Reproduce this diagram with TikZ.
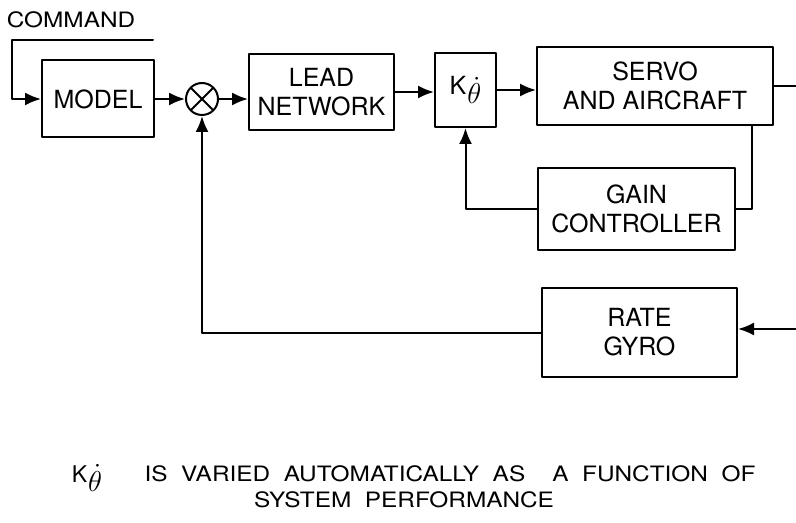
\documentclass[tikz,border=0pt]{standalone}
\usepackage{fontspec}
\setmainfont{TeX Gyre Heros}
\newfontfamily\rong[FakeStretch=1.15,WordSpace=2]{TeX Gyre Heros}
\newcommand{\kdot}{K\kern0.5pt\raisebox{-4.5pt}{\fontsize{15}{15}\selectfont$\dot{\theta}$}}
\usetikzlibrary{arrows.meta}
\usetikzlibrary{calc}

\begin{document}
\begin{tikzpicture}[x=0.5pt,y=-0.5pt,line join=round,line cap=round,>={Latex[length=8pt,width=6.5pt]},
    khoi/.style={draw,line width=1pt,align=center,inner sep=0pt,font=\fontsize{12.5}{14.5}\selectfont},
    day/.style={line width=1pt},
    chu/.style={inner sep=0pt,font=\rong\fontsize{10.6}{12}\selectfont}]%So do khoi
    \useasboundingbox (0,0) rectangle (796,523);
    % cac khoi tren hang chinh
    \node[khoi,minimum width=56pt,minimum height=38.5pt] (model) at (98,99) {MODEL};
    \node[draw,circle,line width=1pt,minimum size=16pt,inner sep=0pt,
        path picture={\draw[line width=1pt] (path picture bounding box.north west)--(path picture bounding box.south east)
            (path picture bounding box.north east)--(path picture bounding box.south west);}] (sum) at (202,99) {};
    \node[khoi,minimum width=72.5pt,minimum height=38pt] (lead) at (321.5,92) {LEAD\\NETWORK};
    \node[khoi,minimum width=30.5pt,minimum height=37pt] (k) at (465.5,90) {\kdot};
    \node[khoi,minimum width=118pt,minimum height=39pt] (servo) at (655,86) {SERVO\\AND AIRCRAFT};
    % khoi phan hoi
    \node[khoi,minimum width=98.5pt,minimum height=41pt] (gain) at (636.5,209) {GAIN\\CONTROLLER};
    \node[khoi,minimum width=97.5pt,minimum height=44.5pt] (rate) at (639.5,332.5) {RATE\\GYRO};
    % lenh vao
    \node[chu] (lenh) at (71,20) {COMMAND};
    \coordinate (c1) at (153,40);
    \coordinate (c2) at (12,40);
    \draw[day,->] (c1)--(c2)|-(model.west);
    % duong chinh
    \draw[day,->] (model.east)--(sum.west);
    \draw[day,->] (sum.east)--(sum.east-|lead.west);
    \draw[day,->] (lead.east)--(lead.east-|k.west);
    \draw[day,->] (k.east)--(k.east-|servo.west);
    \coordinate (ra) at (796,86);
    \draw[day] (servo.east)--(ra);
    % vong dieu chinh he so
    \draw[day] ($(servo.south east)+(-22,0)$)|-(gain.east);
    \draw[day,->] (gain.west)-|(k.south);
    % vong con quay
    \coordinate (vao) at (796,329);
    \draw[day,->] (vao)--(vao-|rate.east);
    \draw[day,->] (rate.west)-|(sum.south);
    % ghi chu
    \node[inner sep=0pt,font=\fontsize{11.5}{14}\selectfont] (kd) at (87,478) {\kdot};
    \node[chu] (dong1) at (450,474) {IS VARIED AUTOMATICALLY AS\ \ A FUNCTION OF};
    \node[chu] (dong2) at (404,500) {SYSTEM PERFORMANCE};
\end{tikzpicture}
\end{document}
